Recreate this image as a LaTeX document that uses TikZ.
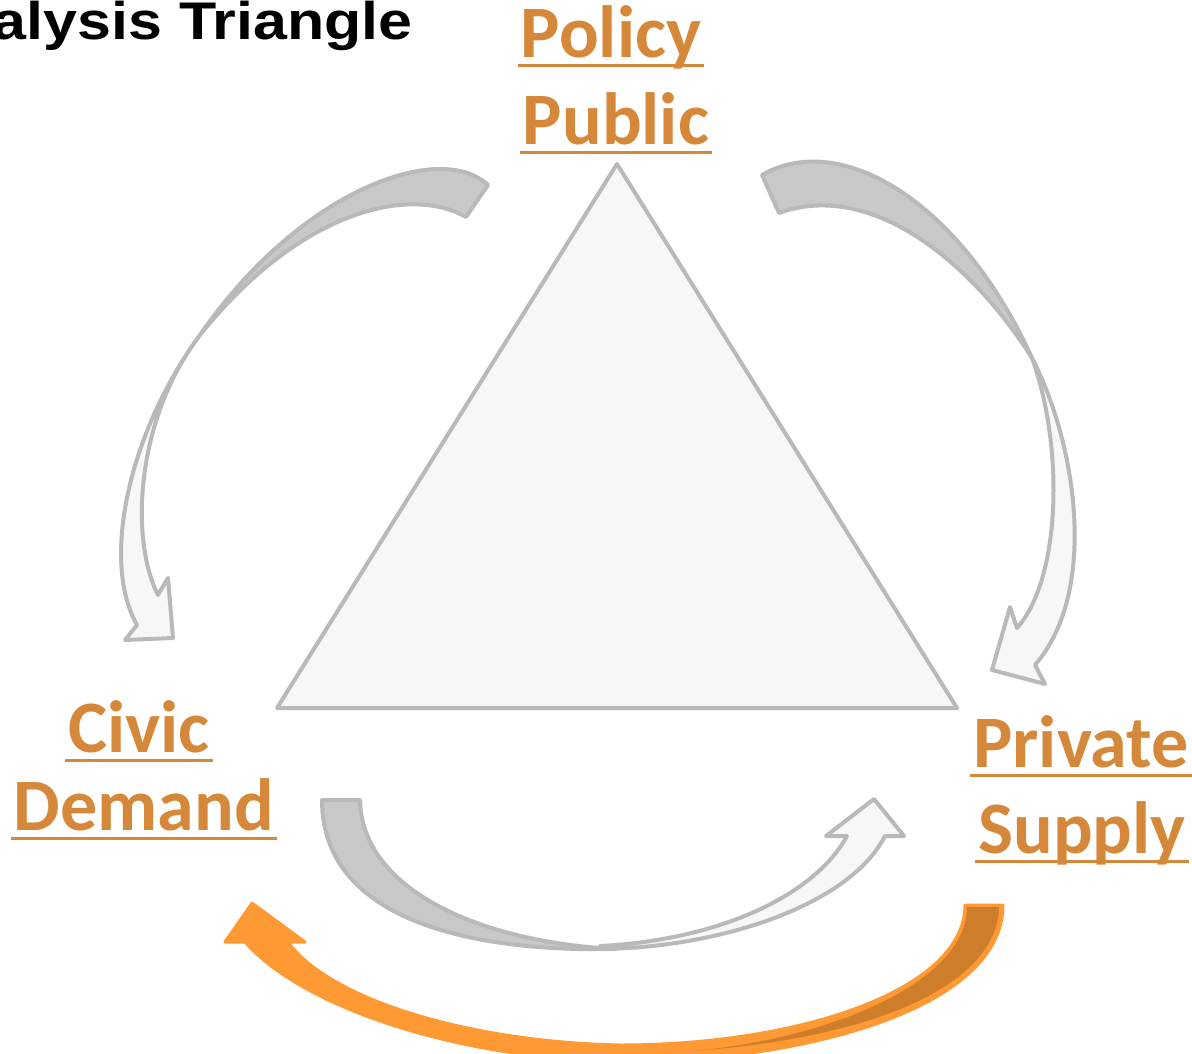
\documentclass[tikz,border=0pt]{standalone}
\usepackage{fontspec}
\setmainfont{Carlito}
\newfontfamily\titlefont{Liberation Sans}
\usetikzlibrary{calc}
\definecolor{labelorange}{RGB}{214,136,58}
\definecolor{edgegray}{RGB}{185,185,185}
\definecolor{darkband}{RGB}{200,200,200}
\definecolor{lightfill}{RGB}{247,247,247}
\definecolor{brightorange}{RGB}{255,153,51}
\definecolor{deeporange}{RGB}{206,125,42}
\begin{document}
\begin{tikzpicture}[x=1pt,y=-1pt,
  lab/.style={text=labelorange, font=\fontsize{74}{80}\selectfont\bfseries, inner sep=0pt, anchor=base},
  uline/.style={draw=labelorange, line width=3pt},
  backband/.style={fill=darkband, draw=edgegray, line width=4pt, line join=round},
  frontband/.style={fill=lightfill, draw=edgegray, line width=4pt, line join=round},
  orangeband/.style={fill=brightorange, draw=brightorange, line width=3pt, line join=round},
  orangeback/.style={fill=deeporange, draw=none},
  tri/.style={fill=lightfill, draw=edgegray, line width=4pt, line join=round}]
\useasboundingbox (0,0) rectangle (1192,1054);
\clip (0,0) rectangle (1192,1054);

% title (cut at the left edge, as in the reference)
\node[anchor=base east, inner sep=0pt, font={\titlefont\fontsize{53}{60}\selectfont\bfseries}] (title) at (413,40) {\scalebox{1.15}[1]{Analysis Triangle}};

% triangle
\coordinate (apex) at (617,164);
\coordinate (bl) at (277,708);
\coordinate (br) at (957,708);
\draw[tri] (apex) -- (br) -- (bl) -- cycle;

% labels
\node[lab] (policy) at (611,58) {Policy};
\node[lab] (public) at (616,145) {Public};
\node[lab] (civic) at (139,752) {Civic};
\node[lab] (demand) at (144,830) {Demand};
\node[lab] (private) at (1081,767) {Private};
\node[lab] (supply) at (1082,853) {Supply};
\foreach \n in {policy,public,civic,demand,private,supply}{
  \draw[uline] ($(\n.base west)+(-3,8)$) -- ($(\n.base east)+(3,8)$);
}

% Public -> Civic curved arrow
\draw[frontband] (200,335) .. controls (130,430) and (100,560) .. (137,625)
  -- (125,640) -- (173,638) -- (168,578) -- (158,595)
  .. controls (130,540) and (135,420) .. (200,335) -- cycle;
\draw[backband] (488,185) .. controls (440,140) and (300,190) .. (200,335)
  .. controls (300,210) and (410,185) .. (466,217) -- cycle;

% Public -> Private curved arrow
\draw[frontband] (1032,358) .. controls (1075,440) and (1100,590) .. (1035,665)
  -- (1045,684) -- (992,670) -- (1010,607) -- (1017,628)
  .. controls (1060,580) and (1065,450) .. (1032,358) -- cycle;
\draw[backband] (762,175) .. controls (840,130) and (960,200) .. (1032,358)
  .. controls (970,260) and (870,180) .. (779,213) -- cycle;

% Civic -> Private curved arrow
\draw[frontband] (600,949) .. controls (720,948) and (850,905) .. (885,836)
  -- (904,836) -- (874,799) -- (826,836) -- (847,836)
  .. controls (815,895) and (720,940) .. (600,946) -- cycle;
\draw[backband] (322,800) .. controls (322,920) and (470,952) .. (615,949)
  .. controls (480,942) and (362,890) .. (360,800) -- cycle;

% Private -> Civic orange arrow
\draw[orangeband] (1003,905) .. controls (1003,1010) and (800,1062) .. (620,1062)
  .. controls (450,1058) and (300,1005) .. (245,942)
  -- (225,942) -- (252,903) -- (305,942) -- (288,942)
  .. controls (330,1000) and (470,1042) .. (620,1045)
  .. controls (800,1045) and (965,990) .. (965,905) -- cycle;
\fill[orangeback] (967,907) -- (999,907) .. controls (997,990) and (860,1040) .. (690,1051)
  .. controls (820,1041) and (967,985) .. (967,907) -- cycle;
\end{tikzpicture}
\end{document}
